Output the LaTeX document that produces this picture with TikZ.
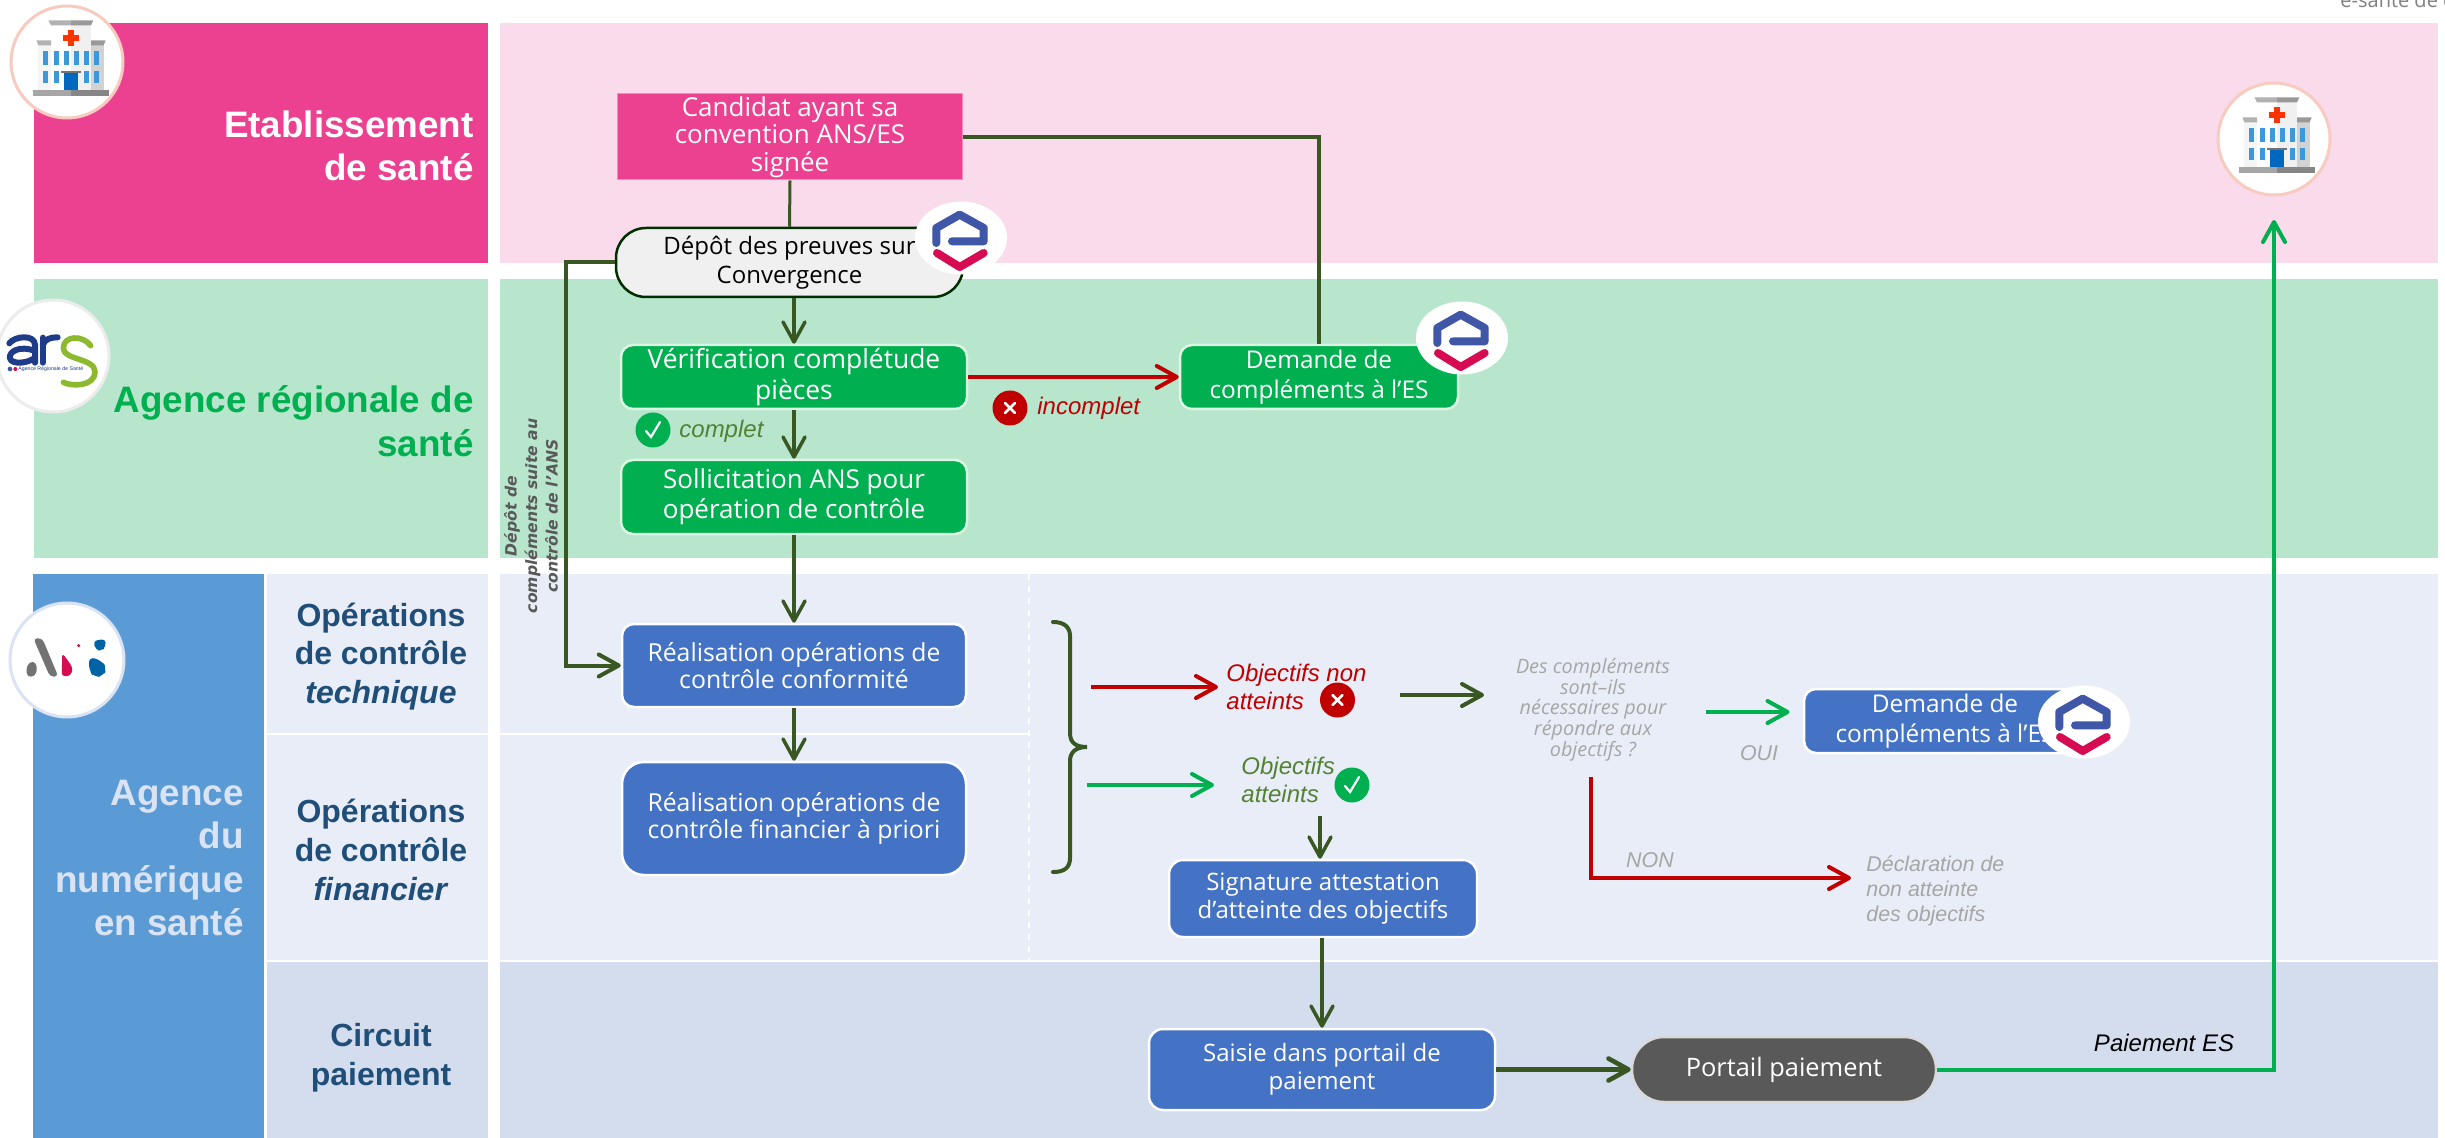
\documentclass[tikz,border=0pt]{standalone}
\usepackage{fontspec}
\usetikzlibrary{arrows.meta,calc}
\setmainfont{Liberation Sans}
\newfontfamily\opf{Open Sans}
\definecolor{espink}{HTML}{EC4190}
\definecolor{panpink}{HTML}{FADBEB}
\definecolor{pangreen}{HTML}{B7E6CD}
\definecolor{msgreen}{HTML}{00B050}
\definecolor{panblue}{HTML}{E9EDF7}
\definecolor{paydark}{HTML}{D3DDEE}
\definecolor{ansblue}{HTML}{5B9BD5}
\definecolor{boxblue}{HTML}{4472C4}
\definecolor{navy}{HTML}{1F4E79}
\definecolor{dkgreen}{HTML}{385723}
\definecolor{olive}{HTML}{548235}
\definecolor{msred}{HTML}{C00000}
\definecolor{grayt}{HTML}{A6A6A6}
\definecolor{pale}{HTML}{DAE3F3}
\definecolor{ebl}{HTML}{3F57A6}
\definecolor{epk}{HTML}{D60B52}
\definecolor{pborder}{HTML}{F8CBC0}
\definecolor{arsblue}{HTML}{1F3C88}
\definecolor{arsgreen}{HTML}{8DB92E}
\tikzset{
 x=0.5pt,y=-0.5pt,
 flowbox/.style={draw=white,line width=1.25pt,text=white,align=center,inner sep=0pt,font=\opf\fontsize{12}{14}\selectfont},
 gbox/.style={flowbox,fill=msgreen,draw=green!10!pangreen!40!white,rounded corners=6pt},
 bigtxt/.style={font=\opf\fontsize{13}{13.8}\selectfont},
 bbox/.style={flowbox,fill=boxblue,rounded corners=6pt},
 head/.style={align=right,anchor=east,inner sep=0pt,font=\bfseries\fontsize{18.4}{21.8}\selectfont},
 sub/.style={align=center,inner sep=0pt,text=navy,font=\bfseries\fontsize{16}{19.3}\selectfont},
 note/.style={inner sep=0pt,font=\itshape\fontsize{12}{14}\selectfont},
 grayn/.style={inner sep=0pt,text=grayt,font=\itshape\fontsize{10.7}{12.5}\selectfont},
 lk/.style={line width=2pt,draw=dkgreen},
 tip/.style={-{Straight Barb[length=10pt,width=11pt,round]}},
 icon/.style={circle,inner sep=0pt,minimum size=17.5pt},
}
\newcommand\hospital[2]{%
\begin{scope}[shift={(#1,#2)},x=0.16667pt,y=-0.16667pt]
 \fill[white] (-60,-113) rectangle (60,85);
 \fill[white!92!gray] (-98,-51) rectangle (-60,85);
 \fill[gray!35!white] (60,-51) rectangle (98,85);
 \fill[white!88!gray] (0,-113) rectangle (60,85);
 \fill[gray!60!white] (-68,-125) -- (0,-125) -- (0,-110) -- (-60,-110) -- cycle;
 \fill[gray!80!white] (67,-125) -- (0,-125) -- (0,-110) -- (60,-110) -- cycle;
 \fill[gray!60!white] (-104,-65) -- (-60,-65) -- (-60,-50) -- (-98,-50) -- cycle;
 \fill[gray!80!white] (104,-65) -- (60,-65) -- (60,-50) -- (98,-50) -- cycle;
 \foreach \a in {-83,-52,-22,8,38,68}{\fill[cyan!70!blue!80!white] (\a,-34) rectangle ++(15,44);}
 \foreach \a in {-83,-52,38,68}{\fill[cyan!70!blue!80!white] (\a,26) rectangle ++(15,37);}
 \fill[blue!45!cyan!75!black] (-22,32) rectangle (22,85);
 \fill[gray!90!black] (-29,26) rectangle (29,34);
 \fill[gray!70!white] (-113,85) rectangle (0,101);
 \fill[gray!95!white] (0,85) rectangle (113,101);
 \fill[orange!40!red] (-8,-95) rectangle (8,-49);
 \fill[orange!40!red] (-23,-80) rectangle (23,-64);
\end{scope}}
\newcommand\elogo[2]{%
\fill[white] (#1,#2) ellipse [x radius=46,y radius=36.5];
\begin{scope}[shift={(#1,#2)},line cap=round,line join=round,line width=4pt]
 \draw[ebl] (-24.7,5) -- (-24.7,-10) -- (-1.3,-23.3) -- (22.7,-10) -- (22.7,3.3) -- (-9,3.3);
 \draw[epk] (-24,15) -- (-1.3,29) -- (22.7,15);
\end{scope}}
\newcommand\okicon[3]{%
\node[icon,fill=msgreen] (#1) at (#2,#3) {};
\draw[white,line width=1.1pt,line cap=round] ($(#1)+(-7,1)$) -- ($(#1)+(-2,7)$) -- ($(#1)+(7,-8)$);}
\newcommand\koicon[3]{%
\node[icon,fill=msred] (#1) at (#2,#3) {};
\draw[white,line width=1.3pt,line cap=round] ($(#1)+(-5,-5)$) -- ($(#1)+(5,5)$) ($(#1)+(5,-5)$) -- ($(#1)+(-5,5)$);}
\begin{document}
\begin{tikzpicture}
\path[use as bounding box,fill=white] (0,0) rectangle (2445,1138);
\clip (0,0) rectangle (2445,1138);
% bands
\fill[espink] (34,23) rectangle (488,263);
\fill[panpink] (500,23) rectangle (2438,263);
\fill[pangreen] (34,279) rectangle (488,558);
\fill[pangreen] (500,279) rectangle (2438,558);
\fill[ansblue] (33,574) rectangle (264,1138);
\fill[panblue] (267,574) rectangle (488,733);
\fill[panblue] (267,735) rectangle (488,960);
\fill[paydark] (267,962) rectangle (488,1138);
\fill[panblue] (500,574) rectangle (2438,960);
\fill[paydark] (500,962) rectangle (2438,1138);
\draw[white,line width=1pt] (500,734) -- (1029,734);
\draw[white,line width=0.6pt,dashed] (1029,574) -- (1029,960);
% header text top right
\node[anchor=base west,inner sep=0pt,text=gray,font=\opf\fontsize{10}{12}\selectfont] (hdr) at (2340,8) {e-santé de dem};
% row titles
\node[head,text=white] (t1) at (474,146) {Etablissement\\de santé};
\node[head,text=msgreen] (t2) at (474,421) {Agence régionale de\\santé};
\node[head,text=pale] (t3) at (244,858) {Agence\\du\\numérique\\en santé};
\node[sub] (s1) at (381,656.5) {Opérations\\de contrôle\\\textit{technique}};
\node[sub] (s2) at (381,850) {Opérations\\de contrôle\\\textit{financier}};
\node[sub] (s3) at (381,1058) {Circuit\\paiement};
% flow nodes
\node[flowbox,bigtxt,fill=espink,draw=espink!60!white,line width=.5pt,minimum width=172.75pt,minimum height=43pt] (cand) at (790,137) {Candidat ayant sa\\convention ANS/ES\\signée};
\node[flowbox,font=\opf\fontsize{12}{14.5}\selectfont,fill=black!6,draw=black!70!green!60!black,text=black,rounded corners=15pt,minimum width=173.5pt,minimum height=34.5pt] (dep) at (789.5,262.5) {Dépôt des preuves sur\\Convergence};
\node[gbox,font=\opf\fontsize{13.2}{15.5}\selectfont,minimum width=173pt,minimum height=32pt] (verif) at (794,377) {Vérification complétude\\pièces};
\node[gbox,font=\opf\fontsize{13}{15}\selectfont,minimum width=173pt,minimum height=37pt] (soll) at (794,497) {Sollicitation ANS pour\\opération de contrôle};
\node[gbox,font=\opf\fontsize{12.2}{15}\selectfont,minimum width=139pt,minimum height=32pt] (dem1) at (1319,377) {Demande de\\compléments à l’ES};
\node[bbox,font=\opf\fontsize{12.4}{13.6}\selectfont,minimum width=172pt,minimum height=41.5pt] (real1) at (794,665.5) {Réalisation opérations de\\contrôle conformité};
\node[bbox,font=\opf\fontsize{12.4}{13.6}\selectfont,rounded corners=11pt,minimum width=172pt,minimum height=56.5pt] (real2) at (794,818.5) {Réalisation opérations de\\contrôle financier à priori};
\node[bbox,font=\opf\fontsize{12.2}{15}\selectfont,minimum width=141pt,minimum height=32pt] (dem2) at (1945,721) {Demande de\\compléments à l’ES};
\node[bbox,rounded corners=7pt,minimum width=154pt,minimum height=38.5pt] (sign) at (1323,898.5) {Signature attestation\\d’atteinte des objectifs};
\node[bbox,rounded corners=7pt,minimum width=173pt,minimum height=40.5pt] (sais) at (1322,1069.5) {Saisie dans portail de\\paiement};
\node[flowbox,font=\opf\fontsize{12.7}{15}\selectfont,fill=black!65,draw=black!15,rounded corners=16pt,minimum width=152pt,minimum height=32.5pt] (port) at (1784,1069.5) {Portail paiement};
% free ends
\coordinate (b1) at (1091,687); \coordinate (b1e) at (1218,687);
\coordinate (b2) at (1087,785); \coordinate (b2e) at (1214,785);
\coordinate (n1) at (1400,695); \coordinate (n1e) at (1484,695);
\coordinate (o1) at (1706,712); \coordinate (o1e) at (1789.5,712);
\coordinate (r1) at (1591,777); \coordinate (r1e) at (1851,878);
\coordinate (a1) at (1320,816);
\coordinate (top) at (2274,220);
% connectors
\draw[lk,line width=1.5pt] (cand.south) -- (dep.north);
\draw[lk,line width=1.75pt,tip] (dep.south -| verif) -- (verif.north);
\draw[lk,line width=1.75pt,tip] (verif.south) -- (soll.north);
\draw[lk,line width=1.75pt,tip] (soll.south) -- (real1.north);
\draw[lk,line width=1.75pt,tip] (real1.south) -- (real2.north);
\draw[lk] (cand.east) -| (dem1.north);
\draw[lk,tip] (dep.west) -- ++(-49,0) |- (real1.west);
\draw[lk,draw=msred,tip] (verif.east) -- (dem1.west);
\draw[lk,draw=msred,tip] (b1) -- (b1e);
\draw[lk,draw=msgreen,tip] (b2) -- (b2e);
\draw[lk,tip] (n1) -- (n1e);
\draw[lk,draw=msgreen,tip] (o1) -- (o1e);
\draw[lk,draw=msred,tip] (r1) |- (r1e);
\draw[lk,line width=1.75pt,tip] (a1) -- (a1 |- sign.north);
\draw[lk,line width=1.75pt,tip] (sign.south -| sais) -- (sais.north);
\draw[lk,line width=2.3pt,tip] (sais.east) -- (port.west);
\draw[lk,draw=msgreen,tip] (port.east) -| (top);
% brace
\draw[lk,line cap=round] (1053,622) .. controls (1064,622) and (1070,627) .. (1070,636) -- (1070,733) .. controls (1070,743) and (1076,747) .. (1087,747) .. controls (1076,747) and (1070,752) .. (1070,761) -- (1070,858) .. controls (1070,868) and (1064,872) .. (1053,872);
% notes
\okicon{okc}{653}{430}
\node[note,text=olive,anchor=west] (complet) at (679,431) {complet};
\koicon{koi}{1010}{408}
\node[note,text=msred,anchor=west] (incomplet) at (1037,408) {incomplet};
\node[inner sep=0pt,rotate=90,align=center,text=black!65,font=\fontspec{DejaVu Sans}\bfseries\itshape\fontsize{7.8}{10.2}\selectfont] (rot) at (531,516) {Dépôt de\\compléments suite au\\contrôle de l’ANS};
\node[note,text=msred,anchor=west,align=left] (nonobj) at (1226,687) {Objectifs non\\atteints};
\koicon{koo}{1337.5}{700}
\node[note,text=olive,anchor=west,align=left] (obj) at (1241,780) {Objectifs\\atteints};
\okicon{oko}{1352}{785}
\node[grayn,font=\opf\itshape\fontsize{9.9}{10.35}\selectfont,align=center] (ques) at (1593,709.5) {Des compléments\\sont–ils\\nécessaires pour\\répondre aux\\objectifs ?};
\node[grayn] (oui) at (1759,753) {OUI};
\node[grayn] (non) at (1650,860) {NON};
\node[grayn,anchor=west,align=left] (decl) at (1866,891) {Déclaration de\\non atteinte\\des objectifs};
\node[note,anchor=center] (paie) at (2164,1043) {Paiement ES};
% logos
\elogo{961}{238}
\elogo{1462}{338}
\elogo{2084}{722}
% hospital circles
\draw[pborder,line width=1.5pt,fill=white] (67,62) circle [radius=56];
\hospital{71}{62}
\draw[pborder,line width=1.5pt,fill=white] (2274,139) circle [radius=56];
\hospital{2277}{139}
% ARS logo
\draw[green!8!black!8!white,line width=1.5pt,fill=white] (53,356) circle [radius=56];
\begin{scope}[shift={(0,295)},x=0.16667pt,y=-0.16667pt,line width=3pt,line cap=round,line join=round]
 \draw[arsblue] (28,145) .. controls (45,122) and (105,118) .. (105,150) -- (105,203);
 \draw[arsblue] (105,168) .. controls (60,150) and (25,170) .. (30,190) .. controls (35,210) and (85,205) .. (105,188);
 \draw[arsblue] (128,203) -- (128,128);
 \draw[arsblue] (128,150) .. controls (135,130) and (155,127) .. (173,127);
 \draw[arsgreen,line width=2.8pt] (272,152) .. controls (250,120) and (190,120) .. (190,160) .. controls (190,195) and (285,190) .. (285,230) .. controls (285,275) and (215,275) .. (190,262);
 \fill[ebl] (30,222) circle [radius=7];
 \fill[epk] (46,222) circle [radius=6];
\end{scope}
\node[inner sep=0pt,anchor=west,text=arsblue,font=\fontsize{2.6}{3}\selectfont] (arst) at (18,369) {Agence Régionale de Santé};
% ANS logo
\draw[pale,line width=1.5pt,fill=white] (67,660) circle [radius=57];
\begin{scope}[shift={(5,600)},x=0.16667pt,y=-0.16667pt]
 \fill[black!55,rounded corners=2pt] (85,115) -- (112,115) -- (160,230) -- (135,230) -- cycle;
 \fill[black!55,rounded corners=2pt] (65,230) -- (65,195) -- (85,181) -- (98,200) -- (90,230) -- cycle;
 \fill[epk,rounded corners=1.5pt] (172,160) -- (195,190) -- (204,208) -- (195,228) -- (170,228) -- cycle;
 \fill[epk] (221,137) circle [radius=5];
 \fill[blue!40!cyan!65!black,rounded corners=2pt] (265,122) -- (302,117) -- (302,140) -- (290,153) -- (272,150) -- cycle;
 \fill[blue!40!cyan!65!black,rounded corners=3pt] (252,170) -- (290,182) -- (306,205) -- (295,228) -- (268,232) -- (252,212) -- cycle;
\end{scope}
\end{tikzpicture}
\end{document}
